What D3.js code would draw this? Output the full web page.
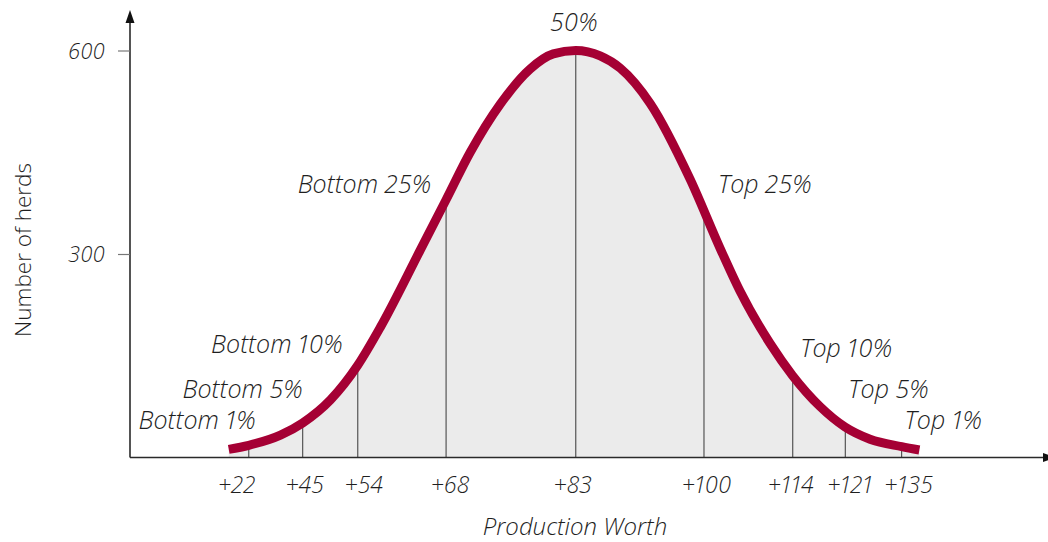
<!DOCTYPE html>
<html>
<head>
<meta charset="utf-8">
<script src="https://cdn.jsdelivr.net/npm/d3@7"></script>
<style>
  html, body { margin: 0; padding: 0; background: #fff; }
  svg { display: block; }
  text { font-family: "Open Sans", "Liberation Sans", sans-serif; fill: #1f1f1f; font-weight: 300;
         font-variant-numeric: proportional-nums; font-feature-settings: "pnum" 1; }
</style>
</head>
<body>
<svg id="chart" width="1048" height="542"></svg>
<script>
// ---- data ----
// curve samples: position in standard deviations from the mean, and number of herds
const curveSd    = [-2.671, -2.517, -2.273, -2.102, -1.888, -1.678, -1.504, -1.196, -0.998, -0.812, -0.581, -0.350, -0.173, 0.000,
                    0.188, 0.342, 0.573, 0.881, 1.112, 1.265, 1.496, 1.668, 1.881, 2.073, 2.265, 2.509, 2.645];
const curveHerds = [12, 18, 33, 51, 85, 136, 192, 306, 380, 450, 521, 573, 595, 600,
                    592, 574, 522, 410, 308, 245, 168, 121, 75, 45, 27, 16, 11];

// percentile markers
const markLabels = ["Bottom 1%", "Bottom 5%", "Bottom 10%", "Bottom 25%", "50%", "Top 25%", "Top 10%", "Top 5%", "Top 1%"];
const markWorth  = ["+22", "+45", "+54", "+68", "+83", "+100", "+114", "+121", "+135"];
const markSd     = [-2.517, -2.102, -1.678, -0.998, 0.0, 0.987, 1.67, 2.075, 2.508];
const markHerds  = [18, 51, 136, 380, 600, 362, 121, 45, 16];

const yTicks = [300, 600];
const xTitle = "Production Worth";
const yTitle = "Number of herds";

// ---- layout / styling ----
const svg = d3.select("#chart");
const x = d3.scaleLinear().domain([-3.431, 3.635]).range([130, 1048]);
const y = d3.scaleLinear().domain([0, 600]).range([457.5, 50.5]);

// label offsets (px) relative to marker top: [dx, dy, anchor]
const labelLayout = [
  [7, -16.3, "end"], [0, -25, "end"], [-15, -12, "end"], [-15, -6.7, "end"],
  [-2, -19.5, "middle"],
  [14, -19, "start"], [7.5, -18.4, "start"], [3, -29, "start"], [3, -17.6, "start"]
];
// worth label horizontal offsets (px)
const worthDx = [-12, 2, 6, 4, -3, 2.5, -2, 4.5, 7];

const curveData = curveSd.map((s, i) => ({ s, v: curveHerds[i] }));
const marks = markSd.map((s, i) => ({ s, v: markHerds[i], label: markLabels[i], worth: markWorth[i], lay: labelLayout[i], wdx: worthDx[i] }));

// fill under curve
const area = d3.area().x(d => x(d.s)).y0(y(0)).y1(d => y(d.v)).curve(d3.curveMonotoneX);
svg.append("path").datum(curveData).attr("d", area).attr("fill", "#ebebeb");

// vertical percentile lines
svg.append("g").selectAll("line").data(marks).join("line")
  .attr("x1", d => x(d.s)).attr("x2", d => x(d.s))
  .attr("y1", y(0)).attr("y2", d => y(d.v))
  .attr("stroke", "#555").attr("stroke-width", 1.2);

// curve
const line = d3.line().x(d => x(d.s)).y(d => y(d.v)).curve(d3.curveMonotoneX);
svg.append("path").datum(curveData).attr("d", line)
  .attr("fill", "none").attr("stroke", "#a50034").attr("stroke-width", 9).attr("stroke-linecap", "butt");

// axes
const axisColor = "#2a2a2a";
const ax0 = x.range()[0];
svg.append("line").attr("x1", ax0).attr("x2", 1045).attr("y1", y(0)).attr("y2", y(0))
  .attr("stroke", axisColor).attr("stroke-width", 1.6);
svg.append("line").attr("x1", ax0).attr("x2", ax0).attr("y1", y(0)).attr("y2", 20)
  .attr("stroke", axisColor).attr("stroke-width", 1.6);
// arrowheads
svg.append("path").attr("d", `M${ax0},10 L${ax0 + 4.5},23 L${ax0 - 4.5},23 Z`).attr("fill", "#111");
svg.append("path").attr("d", `M1056,${y(0)} L1043,${y(0) - 4.5} L1043,${y(0) + 4.5} Z`).attr("fill", "#111");

// y ticks
const yAxis = d3.axisLeft(y).tickValues(yTicks).tickSize(12).tickPadding(13).tickFormat(d3.format("d"));
const gy = svg.append("g").attr("transform", `translate(${ax0},0)`).call(yAxis);
gy.select(".domain").remove();
gy.selectAll(".tick line").attr("stroke", "#777").attr("stroke-width", 1.2);
gy.selectAll(".tick text").attr("font-size", 21.5).attr("font-style", "italic").attr("fill", "#1f1f1f")
  .attr("dy", "0.35em").style("font-family", "'Open Sans', sans-serif").style("font-weight", 300);

// x tick labels (percentile worth values)
svg.append("g").selectAll("text").data(marks).join("text")
  .attr("x", d => x(d.s) + d.wdx).attr("y", 493)
  .attr("text-anchor", "middle").attr("font-size", 23).attr("font-style", "italic")
  .text(d => d.worth);

// percentile labels
svg.append("g").selectAll("text").data(marks).join("text")
  .attr("x", d => x(d.s) + d.lay[0]).attr("y", d => y(d.v) + d.lay[1])
  .attr("text-anchor", d => d.lay[2]).attr("font-size", 25).attr("font-style", "italic")
  .text(d => d.label);

// titles
svg.append("text").attr("x", 575).attr("y", 535).attr("text-anchor", "middle")
  .attr("font-size", 24).attr("font-style", "italic").text(xTitle);
svg.append("text").attr("transform", "translate(31,250) rotate(-90)").attr("text-anchor", "middle")
  .attr("font-size", 22.5).text(yTitle);
</script>
</body>
</html>
